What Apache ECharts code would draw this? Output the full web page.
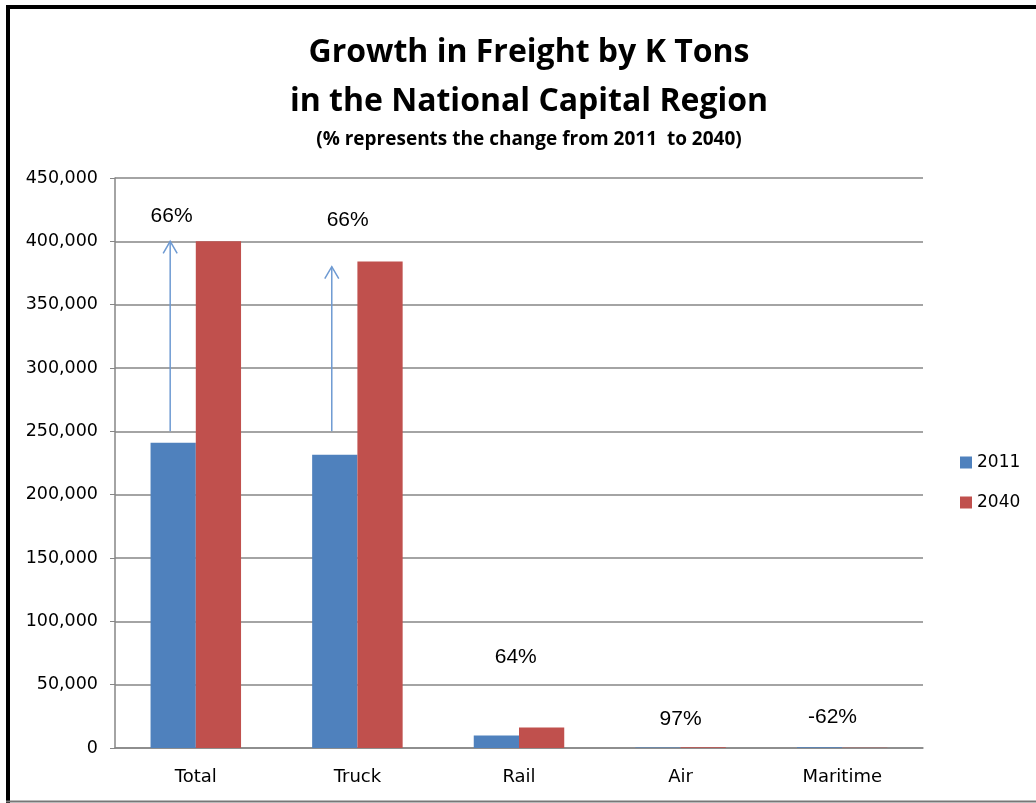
<!DOCTYPE html>
<html><head><meta charset="utf-8">
<script src="https://cdn.jsdelivr.net/npm/echarts@6/dist/echarts.min.js"></script>
<style>html,body{margin:0;padding:0;background:#fff}#c{width:1036px;height:803px}</style>
</head><body><div id="c"></div>
<script>
const categories = ['Total', 'Truck', 'Rail', 'Air', 'Maritime'];
const values2011 = [241000, 231500, 9800, 300, 600];
const values2040 = [400000, 384000, 16100, 590, 230];
const pctLabels = ['66%', '66%', '64%', '97%', '-62%'];
const pctLabelValues = [420000, 417000, 72000, 23000, 24000];
const arrowFrom = [250000, 250000];
const arrowTo = [400000, 380000];

const chart = echarts.init(document.getElementById('c'));
const blue = '#4F81BD', red = '#C0504D';
const arrowData = arrowFrom.map((v, i) => [i, v, arrowTo[i]]);
const labelData = pctLabels.map((t, i) => [i, pctLabelValues[i], t]);

chart.setOption({
  animation: false,
  title: [
    { text: 'Growth in Freight by K Tons\nin the National Capital Region', left: 524, top: 23, textAlign: 'center',
      textStyle: { fontFamily: 'Open Sans', fontWeight: 'bold', fontSize: 32, lineHeight: 49, color: '#000' } },
    { text: '(% represents the change from 2011  to 2040)', left: 524, top: 125, textAlign: 'center',
      textStyle: { fontFamily: 'Open Sans', fontWeight: 'bold', fontSize: 19, color: '#000' } }
  ],
  legend: {
    orient: 'vertical', left: 955, top: 449, itemWidth: 12, itemHeight: 12, itemGap: 23,
    icon: 'rect', textStyle: { fontFamily: 'DejaVu Sans', fontSize: 17, color: '#000' },
    data: ['2011', '2040']
  },
  grid: { left: 115, right: 113, top: 178, bottom: 55 },
  xAxis: {
    type: 'category', data: categories,
    axisLine: { lineStyle: { color: '#868686', width: 1.5 } },
    axisTick: { show: false },
    axisLabel: { fontFamily: 'DejaVu Sans', fontSize: 18, color: '#000', margin: 20 }
  },
  yAxis: {
    type: 'value', min: 0, max: 450000, interval: 50000,
    axisLine: { show: true, lineStyle: { color: '#868686', width: 1.5 } },
    axisTick: { show: true, length: 5, lineStyle: { color: '#868686' } },
    splitLine: { lineStyle: { color: '#868686', width: 1.5 } },
    axisLabel: { fontFamily: 'DejaVu Sans', fontSize: 17.5, color: '#000', margin: 17,
      formatter: v => v.toLocaleString('en-US') }
  },
  series: [
    { name: '2011', type: 'bar', data: values2011, barWidth: '28%', barGap: '0%', itemStyle: { color: blue } },
    { name: '2040', type: 'bar', data: values2040, barWidth: '28%', barGap: '0%', itemStyle: { color: red } },
    { type: 'custom', data: arrowData, z: 5, silent: true,
      renderItem: function (params, api) {
        const band = api.size([1, 0])[0];
        const off = -band * 0.14 - 3;
        const p0 = api.coord([api.value(0), api.value(1)]);
        const p1 = api.coord([api.value(0), api.value(2)]);
        const x = p0[0] + off;
        return { type: 'group', children: [
          { type: 'line', shape: { x1: x, y1: p0[1], x2: x, y2: p1[1] }, style: { stroke: '#6E9AD2', lineWidth: 1.5 } },
          { type: 'polyline', shape: { points: [[x - 7, p1[1] + 12], [x, p1[1]], [x + 7, p1[1] + 12]] }, style: { stroke: '#6E9AD2', lineWidth: 1.5, fill: null } }
        ] };
      }
    },
    { type: 'custom', data: labelData, z: 6, silent: true,
      renderItem: function (params, api) {
        const band = api.size([1, 0])[0];
        const p = api.coord([api.value(0), api.value(1)]);
        const i = params.dataIndex;
        const shifts = [-0.15, -0.06, -0.02, 0, -0.06];
        return { type: 'text', x: p[0] + band * shifts[i], y: p[1],
          style: { text: pctLabels[i], fontFamily: 'Liberation Sans', fontSize: 21, fill: '#000', align: 'center', verticalAlign: 'middle' } };
      }
    }
  ],
  graphic: [
    { type: 'line', shape: { x1: 6, y1: 7, x2: 1036, y2: 7 }, style: { stroke: '#000', lineWidth: 4 } },
    { type: 'line', shape: { x1: 8, y1: 5, x2: 8, y2: 803 }, style: { stroke: '#000', lineWidth: 4 } },
    { type: 'line', shape: { x1: 6, y1: 801.5, x2: 1036, y2: 801.5 }, style: { stroke: '#777', lineWidth: 2 } }
  ]
});
</script></body></html>
